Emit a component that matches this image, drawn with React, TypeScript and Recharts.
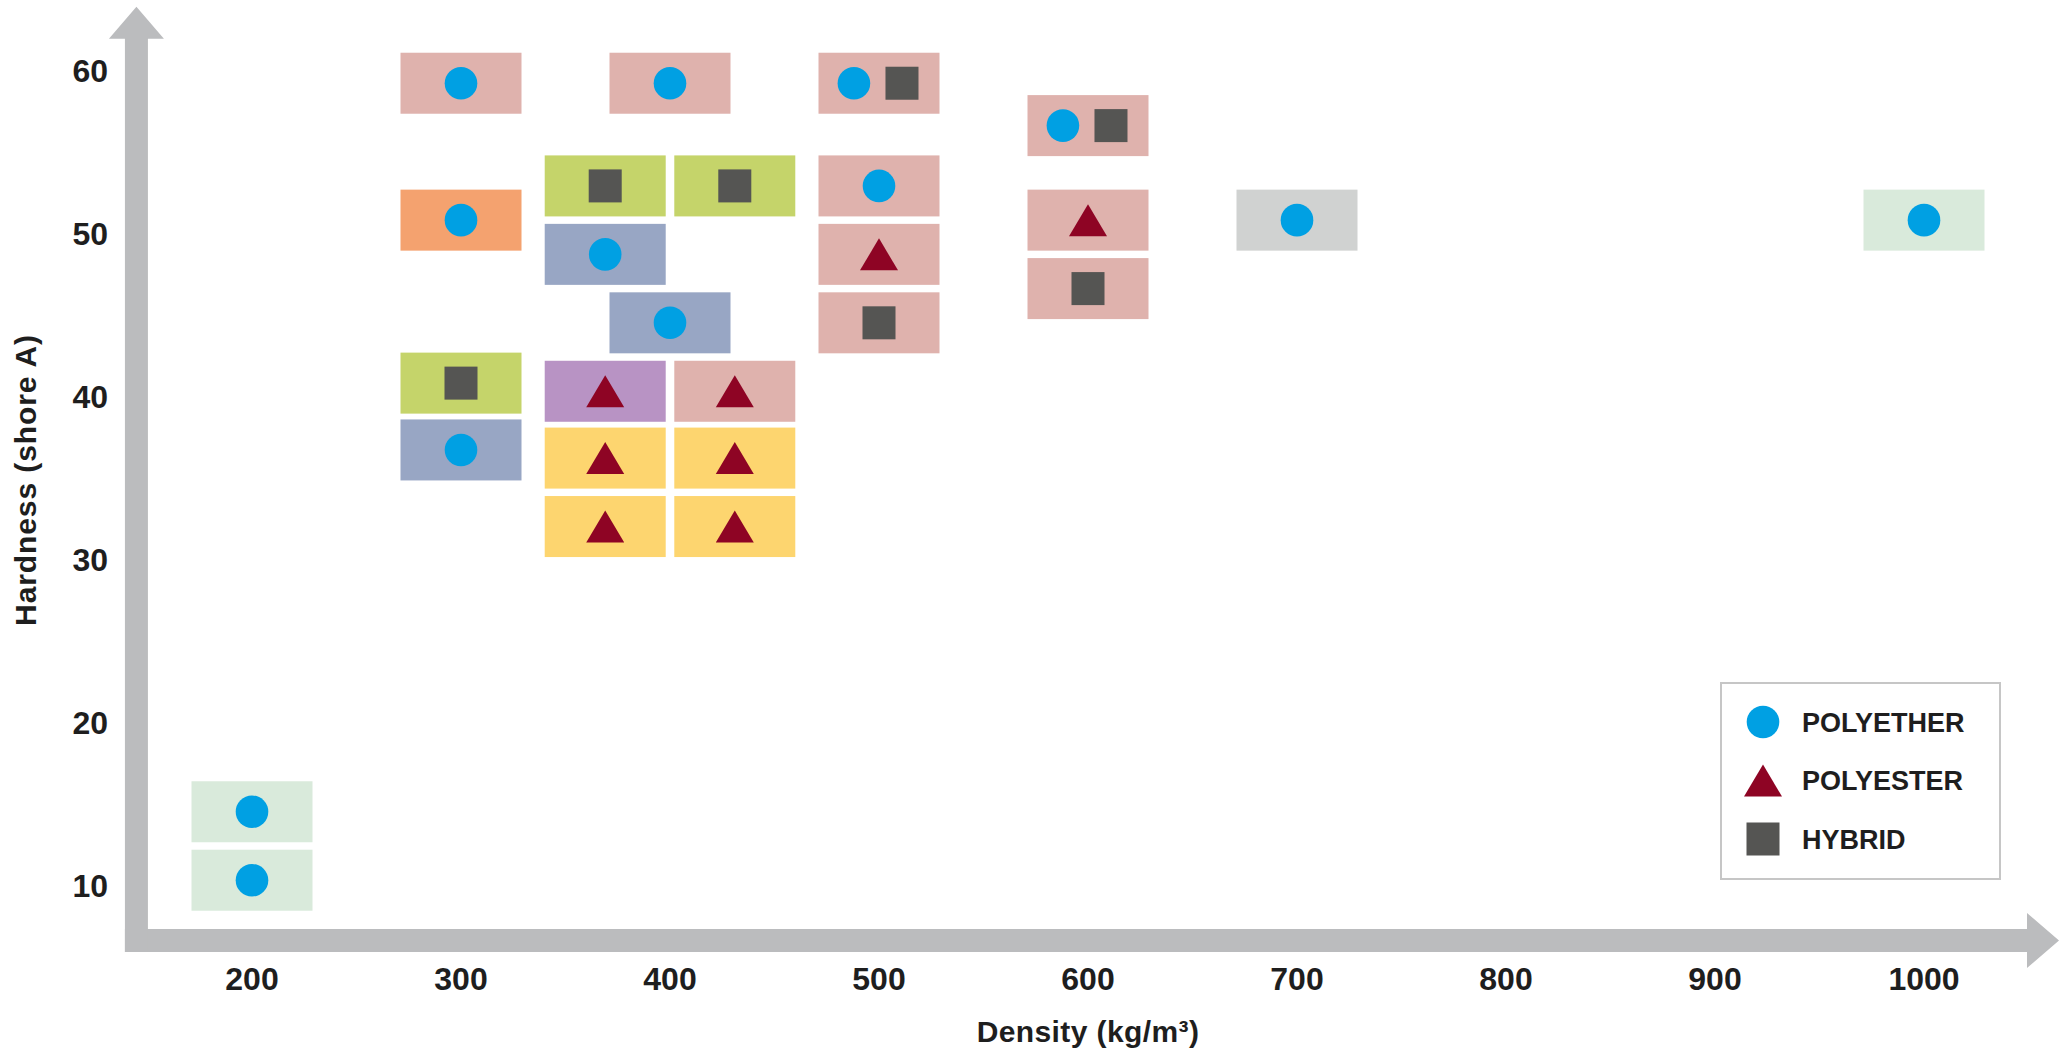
import React from 'react';
import { ScatterChart, Scatter, XAxis, YAxis, ReferenceLine, Legend } from 'recharts';

// ---- data ----
const xTicks = [200, 300, 400, 500, 600, 700, 800, 900, 1000];
const yTicks = [10, 20, 30, 40, 50, 60];
const legendOrder = ['POLYETHER', 'POLYESTER', 'HYBRID'];

const boxes = [
  { x: 200, y: 14.5, kind: 'lightgreen' },
  { x: 200, y: 10.3, kind: 'lightgreen' },
  { x: 300, y: 59.2, kind: 'pink' },
  { x: 300, y: 50.8, kind: 'orange' },
  { x: 300, y: 40.8, kind: 'green' },
  { x: 300, y: 36.7, kind: 'bluegray' },
  { x: 369, y: 52.9, kind: 'green' },
  { x: 369, y: 48.7, kind: 'bluegray' },
  { x: 369, y: 40.3, kind: 'purple' },
  { x: 369, y: 36.2, kind: 'yellow' },
  { x: 369, y: 32.0, kind: 'yellow' },
  { x: 400, y: 59.2, kind: 'pink' },
  { x: 400, y: 44.5, kind: 'bluegray' },
  { x: 431, y: 52.9, kind: 'green' },
  { x: 431, y: 40.3, kind: 'pink' },
  { x: 431, y: 36.2, kind: 'yellow' },
  { x: 431, y: 32.0, kind: 'yellow' },
  { x: 500, y: 59.2, kind: 'pink' },
  { x: 500, y: 52.9, kind: 'pink' },
  { x: 500, y: 48.7, kind: 'pink' },
  { x: 500, y: 44.5, kind: 'pink' },
  { x: 600, y: 56.6, kind: 'pink' },
  { x: 600, y: 50.8, kind: 'pink' },
  { x: 600, y: 46.6, kind: 'pink' },
  { x: 700, y: 50.8, kind: 'gray' },
  { x: 1000, y: 50.8, kind: 'lightgreen' },
];

const polyether = [
  { x: 200, y: 14.5 }, { x: 200, y: 10.3 },
  { x: 300, y: 59.2 }, { x: 300, y: 50.8 }, { x: 300, y: 36.7 },
  { x: 369, y: 48.7 },
  { x: 400, y: 59.2 }, { x: 400, y: 44.5 },
  { x: 488, y: 59.2 }, { x: 500, y: 52.9 },
  { x: 588, y: 56.6 },
  { x: 700, y: 50.8 },
  { x: 1000, y: 50.8 },
];

const polyester = [
  { x: 369, y: 40.3 }, { x: 369, y: 36.2 }, { x: 369, y: 32.0 },
  { x: 431, y: 40.3 }, { x: 431, y: 36.2 }, { x: 431, y: 32.0 },
  { x: 500, y: 48.7 },
  { x: 600, y: 50.8 },
];

const hybrid = [
  { x: 300, y: 40.8 },
  { x: 369, y: 52.9 }, { x: 431, y: 52.9 },
  { x: 511, y: 59.2 }, { x: 500, y: 44.5 },
  { x: 611, y: 56.6 }, { x: 600, y: 46.6 },
];

// axis arrow segments (data units)
const yArrow = [{ x: 144.7, y: 5.9 }, { x: 144.7, y: 63.9 }];
const xArrow = [{ x: 139.2, y: 6.6 }, { x: 1064.6, y: 6.6 }];

// ---- styles ----
const palette: Record<string, string> = {
  pink: '#dfb2ad',
  orange: '#f4a26f',
  green: '#c5d46a',
  bluegray: '#98a6c4',
  purple: '#b893c4',
  yellow: '#fdd56f',
  gray: '#d0d2d1',
  lightgreen: '#d9eadb',
};
const COL_CIRCLE = '#00a0e3';
const COL_TRI = '#8e0424';
const COL_SQ = '#555553';
const AXIS_GRAY = '#bbbcbe';
const TEXT = '#1e1e1e';
const FONT = '"Liberation Sans", Arial, Helvetica, sans-serif';

const BoxShape = (p: any) => {
  const w = 121, h = 61;
  return <rect x={p.cx - w / 2} y={p.cy - h / 2} width={w} height={h} fill={palette[p.payload.kind]} />;
};
const CircleShape = (p: any) => <circle cx={p.cx} cy={p.cy} r={16.3} fill={COL_CIRCLE} />;
const TriShape = (p: any) => (
  <polygon points={`${p.cx},${p.cy - 16} ${p.cx + 19},${p.cy + 16} ${p.cx - 19},${p.cy + 16}`} fill={COL_TRI} />
);
const SquareShape = (p: any) => <rect x={p.cx - 16.5} y={p.cy - 16.5} width={33} height={33} fill={COL_SQ} />;

const ArrowShape = (p: any) => {
  const { x1, y1, x2, y2 } = p;
  const dx = x2 - x1, dy = y2 - y1;
  const len = Math.sqrt(dx * dx + dy * dy) || 1;
  const ux = dx / len, uy = dy / len;
  const nx = -uy, ny = ux;
  const sw = 11.5, hw = 27.5, hl = 32;
  const bx = x2 - ux * hl, by = y2 - uy * hl;
  const pts = [
    [x1 + nx * sw, y1 + ny * sw],
    [bx + nx * sw, by + ny * sw],
    [bx + nx * hw, by + ny * hw],
    [x2, y2],
    [bx - nx * hw, by - ny * hw],
    [bx - nx * sw, by - ny * sw],
    [x1 - nx * sw, y1 - ny * sw],
  ];
  return <polygon points={pts.map((q) => q.join(',')).join(' ')} fill={AXIS_GRAY} />;
};

const YTick = (p: any) => (
  <text x={p.x} y={p.y} dy="0.36em" textAnchor="end" fontFamily={FONT} fontWeight={700} fontSize={32} fill={TEXT}>
    {p.payload.value}
  </text>
);
const XTick = (p: any) => (
  <text x={p.x} y={p.y} dy="0.71em" textAnchor="middle" fontFamily={FONT} fontWeight={700} fontSize={32} fill={TEXT}>
    {p.payload.value}
  </text>
);

const legendShapes: Record<string, (cx: number, cy: number) => React.ReactNode> = {
  POLYETHER: (cx, cy) => <CircleShape cx={cx} cy={cy} />,
  POLYESTER: (cx, cy) => <TriShape cx={cx} cy={cy} />,
  HYBRID: (cx, cy) => <SquareShape cx={cx} cy={cy} />,
};

const LegendContent = (props: any) => {
  const items = (props.payload || [])
    .filter((e: any) => legendShapes[e.value])
    .sort((a: any, b: any) => legendOrder.indexOf(a.value) - legendOrder.indexOf(b.value));
  return (
    <svg width={282} height={199} style={{ display: 'block' }}>
      <rect x={1} y={1} width={279} height={196} fill="#fff" stroke="#c6c6c6" strokeWidth={2} />
      {items.map((e: any, i: number) => {
        const cy = 40 + i * 58.5;
        return (
          <g key={e.value}>
            {legendShapes[e.value](43, cy)}
            <text x={82} y={cy} dy="0.36em" fontFamily={FONT} fontWeight={700} fontSize={27} fill={TEXT}>
              {e.value}
            </text>
          </g>
        );
      })}
    </svg>
  );
};

export default function App() {
  return (
    <div style={{ position: 'absolute', left: 0, top: 0, width: 2069, height: 1051, background: '#fff' }}>
      <ScatterChart width={2069} height={1051} margin={{ top: 5, right: 40.5, left: 47.5, bottom: 57 }}>
        <XAxis
          type="number"
          dataKey="x"
          domain={[150, 1050]}
          ticks={xTicks}
          allowDataOverflow
          axisLine={false}
          tickLine={false}
          tickSize={0}
          tickMargin={33}
          height={60}
          tick={<XTick />}
          interval={0}
          label={{
            content: (lp: any) => {
              const vb = lp.viewBox || {};
              return (
                <text
                  x={vb.x + vb.width / 2}
                  y={vb.y + 108}
                  textAnchor="middle"
                  fontFamily={FONT}
                  fontWeight={700}
                  fontSize={30}
                  letterSpacing={0.4}
                  fill={TEXT}
                >
                  Density (kg/m³)
                </text>
              );
            },
          }}
        />
        <YAxis
          type="number"
          dataKey="y"
          domain={[7, 64]}
          ticks={yTicks}
          allowDataOverflow
          axisLine={false}
          tickLine={false}
          tickSize={0}
          tickMargin={39.5}
          width={100}
          tick={<YTick />}
          interval={0}
          label={{
            content: (lp: any) => {
              const vb = lp.viewBox || {};
              const cx = 36, cy = vb.y + vb.height / 2 + 10.5;
              return (
                <text
                  x={cx}
                  y={cy}
                  transform={`rotate(-90 ${cx} ${cy})`}
                  textAnchor="middle"
                  fontFamily={FONT}
                  fontWeight={700}
                  fontSize={30}
                  letterSpacing={0.9}
                  fill={TEXT}
                >
                  Hardness (shore A)
                </text>
              );
            },
          }}
        />
        <ReferenceLine segment={xArrow} ifOverflow="visible" shape={<ArrowShape />} />
        <ReferenceLine segment={yArrow} ifOverflow="visible" shape={<ArrowShape />} />
        <Scatter name="boxes" data={boxes} shape={<BoxShape />} legendType="none" isAnimationActive={false} />
        <Scatter name="POLYETHER" data={polyether} shape={<CircleShape />} fill={COL_CIRCLE} isAnimationActive={false} />
        <Scatter name="POLYESTER" data={polyester} shape={<TriShape />} fill={COL_TRI} isAnimationActive={false} />
        <Scatter name="HYBRID" data={hybrid} shape={<SquareShape />} fill={COL_SQ} isAnimationActive={false} />
        <Legend
          layout="horizontal"
          verticalAlign="middle"
          align="center"
          content={<LegendContent />}
          wrapperStyle={{ left: 1720, top: 682, width: 282, height: 199 }}
        />
      </ScatterChart>
    </div>
  );
}
